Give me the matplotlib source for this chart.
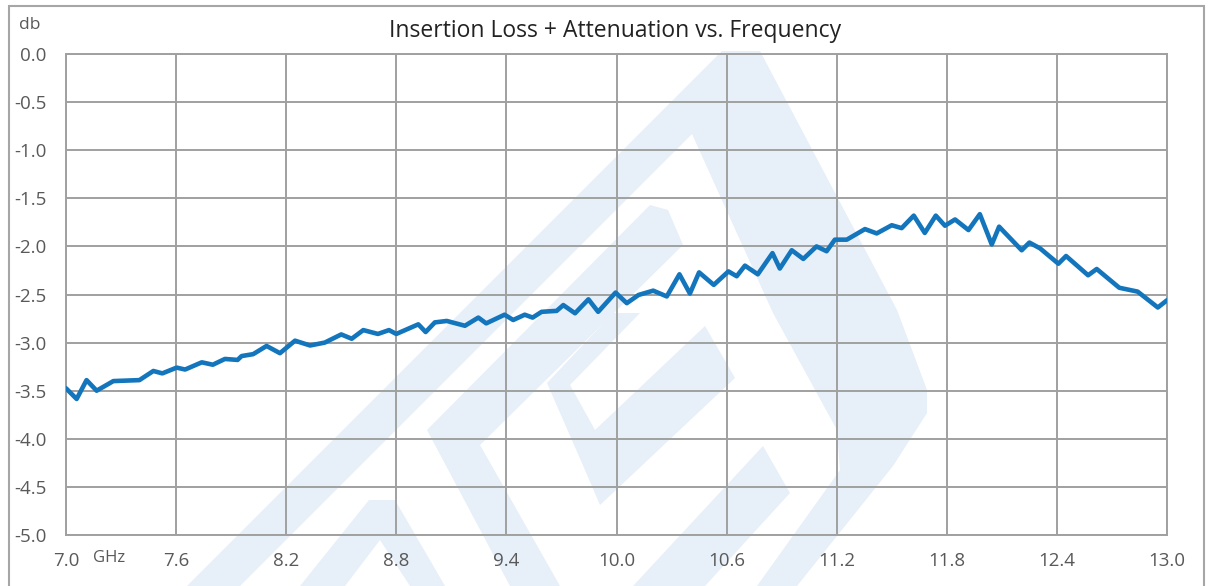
import matplotlib
matplotlib.use("Agg")
import matplotlib.pyplot as plt
from matplotlib.patches import Polygon, Rectangle

# ---------------- data ----------------
freq_ghz = [7.000, 7.058, 7.112, 7.167, 7.258, 7.400, 7.476, 7.525, 7.603, 7.649,
            7.740, 7.800, 7.866, 7.935, 7.957, 8.020, 8.093, 8.166, 8.248, 8.330,
            8.410, 8.500, 8.557, 8.620, 8.700, 8.760, 8.800, 8.920, 8.960, 9.010,
            9.075, 9.174, 9.247, 9.290, 9.390, 9.437, 9.500, 9.543, 9.592, 9.674,
            9.710, 9.774, 9.847, 9.900, 9.995, 10.056, 10.120, 10.200, 10.274, 10.343,
            10.400, 10.450, 10.530, 10.610, 10.655, 10.700, 10.770, 10.850, 10.890, 10.955,
            11.018, 11.090, 11.145, 11.190, 11.255, 11.354, 11.418, 11.500, 11.554, 11.620,
            11.680, 11.740, 11.790, 11.845, 11.918, 11.980, 12.045, 12.085, 12.208, 12.250,
            12.308, 12.408, 12.450, 12.570, 12.617, 12.740, 12.840, 12.950, 13.000]
loss_db = [-3.475, -3.586, -3.390, -3.500, -3.400, -3.390, -3.295, -3.320, -3.260, -3.280,
           -3.205, -3.230, -3.170, -3.180, -3.140, -3.120, -3.035, -3.110, -2.980, -3.030,
           -3.000, -2.915, -2.960, -2.870, -2.910, -2.870, -2.910, -2.810, -2.890, -2.790,
           -2.775, -2.825, -2.740, -2.800, -2.710, -2.765, -2.710, -2.740, -2.680, -2.670,
           -2.610, -2.695, -2.550, -2.680, -2.480, -2.590, -2.505, -2.460, -2.520, -2.290,
           -2.490, -2.270, -2.400, -2.260, -2.310, -2.200, -2.290, -2.070, -2.230, -2.040,
           -2.130, -2.000, -2.050, -1.930, -1.930, -1.820, -1.865, -1.780, -1.810, -1.680,
           -1.860, -1.680, -1.785, -1.720, -1.830, -1.665, -1.980, -1.795, -2.040, -1.960,
           -2.020, -2.180, -2.100, -2.300, -2.235, -2.430, -2.470, -2.635, -2.560]

x_ticks = [7.0, 7.6, 8.2, 8.8, 9.4, 10.0, 10.6, 11.2, 11.8, 12.4, 13.0]
x_tick_labels = ["7.0", "7.6", "8.2", "8.8", "9.4", "10.0", "10.6", "11.2", "11.8", "12.4", "13.0"]
y_ticks = [0.0, -0.5, -1.0, -1.5, -2.0, -2.5, -3.0, -3.5, -4.0, -4.5, -5.0]
y_tick_labels = ["0.0", "-0.5", "-1.0", "-1.5", "-2.0", "-2.5", "-3.0", "-3.5", "-4.0", "-4.5", "-5.0"]

title = "Insertion Loss + Attenuation vs. Frequency"
y_unit = "db"
x_unit = "GHz"

# ---------------- figure ----------------
W, H = 1209, 586
plt.rcParams['font.family'] = ['Open Sans', 'DejaVu Sans']
fig = plt.figure(figsize=(W / 100, H / 100), dpi=100)
fig.patch.set_facecolor('white')


def fpx(pts):
    return [(x / W, 1 - y / H) for x, y in pts]


# watermark (decorative background logo)
wm_color = '#E7EFF8'
wm_polys = [
    [(187, 586), (722, 51), (760, 51), (897, 310), (927, 390), (927, 413), (893, 466),
     (797, 586), (757, 586), (840, 470), (837, 430), (773, 313), (692, 134), (240, 586)],
    [(427, 430), (650, 205), (668, 210), (683, 245), (480, 445), (560, 586), (510, 586)],
    [(547, 383), (613, 313), (640, 313), (570, 385), (595, 430), (705, 326), (735, 378),
     (600, 505), (585, 470)],
    [(633, 586), (763, 446), (790, 493), (705, 586)],
    [(300, 586), (369, 500), (395, 500), (445, 586), (410, 586), (380, 540), (345, 586)],
]
for p in wm_polys:
    fig.add_artist(Polygon(fpx(p), closed=True, transform=fig.transFigure,
                           facecolor=wm_color, edgecolor='none', zorder=-1))

# outer frame
fig.add_artist(Rectangle((9 / W, -0.1), (1204 - 9) / W, 1.1 - 6 / H,
                         transform=fig.transFigure, fill=False,
                         edgecolor='#A6A6A6', linewidth=1.5, zorder=-0.5))

ax = fig.add_axes([66 / W, 1 - 535 / H, (1167 - 66) / W, (535 - 54) / H])
ax.set_facecolor('none')
ax.set_xlim(7.0, 13.0)
ax.set_ylim(-5.0, 0.0)

grid_c = '#A0A0A0'
ax.set_xticks(x_ticks)
ax.set_xticklabels(x_tick_labels)
ax.set_yticks(y_ticks)
ax.set_yticklabels(y_tick_labels)
ax.grid(True, color=grid_c, linewidth=1.4)
for s in ax.spines.values():
    s.set_color(grid_c)
    s.set_linewidth(1.4)
ax.tick_params(length=0, labelsize=13.5, labelcolor='#595959')
ax.tick_params(axis='x', pad=12)
ax.tick_params(axis='y', pad=14)
ax.set_axisbelow(True)

ax.plot(freq_ghz, loss_db, color='#1375BC', linewidth=3.3,
        solid_joinstyle='round', solid_capstyle='round', zorder=3)

fig.text(615 / W, 1 - 31 / H, title, ha='center', va='center',
         fontsize=16.5, color='#222222')
fig.text(19 / W, 1 - 25 / H, y_unit, ha='left', va='center',
         fontsize=12.5, color='#595959')
fig.text(93 / W, 1 - 558 / H, x_unit, ha='left', va='center',
         fontsize=12, color='#595959')

fig.savefig('out.png', dpi=100, facecolor='white')
